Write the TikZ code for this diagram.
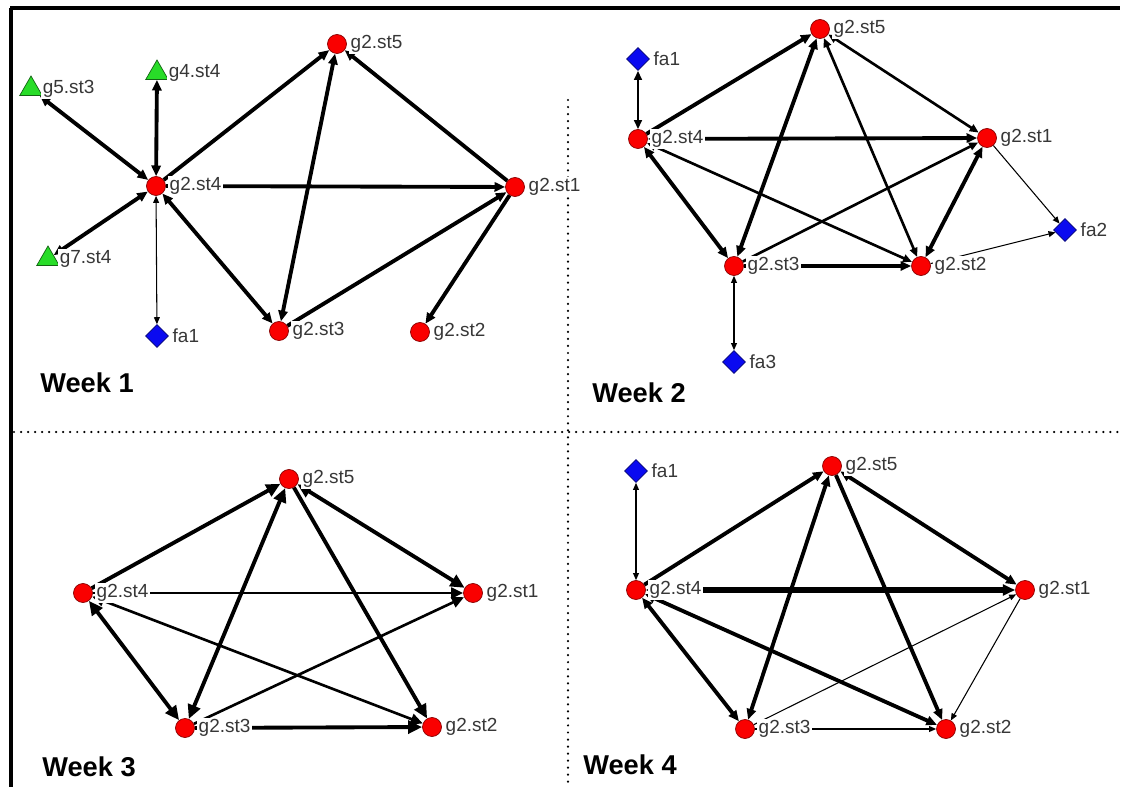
\documentclass[tikz,border=0pt]{standalone}
\usepackage{fontspec}
\setmainfont{Liberation Sans}
\usetikzlibrary{arrows.meta,shapes.geometric,backgrounds}
\definecolor{stred}{RGB}{250,0,0}
\definecolor{grpgreen}{RGB}{40,220,40}
\definecolor{fablue}{RGB}{10,10,240}
\definecolor{lblgray}{RGB}{55,55,55}
\begin{document}
\begin{tikzpicture}[
x=0.02cm, y=-0.02cm,
>={Triangle[length=3.2pt 1.3,width=2.6pt 1.2]},
st/.style={circle, fill=stred, draw=stred!55!black, line width=0.4pt,
  minimum size=0.38cm, inner sep=0pt},
grp/.style={regular polygon, regular polygon sides=3, fill=grpgreen,
  draw=grpgreen!45!black, line width=0.4pt, minimum size=0.52cm, inner sep=0pt},
fa/.style={diamond, fill=fablue, draw=fablue!50!black, line width=0.4pt,
  minimum size=0.46cm, inner sep=0pt},
label distance=1.2pt,
every label/.style={font=\fontsize{10.8}{12}\selectfont, text=lblgray,
  fill=white, inner sep=0.8pt},
week/.style={anchor=west, inner sep=0pt, font=\fontsize{15.5}{17}\selectfont\bfseries},
tn/.style={line width=0.6pt},
md/.style={line width=1.5pt},
tk/.style={line width=2.2pt},
xt/.style={line width=2.9pt},
big/.style={>={Triangle[length=4.5pt 1.6,width=3.8pt 1.6]}},
sep/.style={line width=1.4pt, dash pattern=on 0pt off 4pt, line cap=round}
]
\useasboundingbox (0,0) rectangle (1123,787);

% frame and separators
\draw[line width=1.8pt] (10,8) -- (1120,8);
\draw[line width=1.8pt] (11,8) -- (11,787);
\draw[sep] (14,432) -- (1123,432);
\draw[sep] (568,100) -- (568,787);

% week 1
\node[st, label=right:g2.st5] (w1-st5) at (337,44) {};
\node[grp, label=right:g4.st4] (w1-g4) at (157,73) {};
\node[grp, label=right:g5.st3] (w1-g5) at (31,89) {};
\node[st, label=right:g2.st4] (w1-st4) at (156,186) {};
\node[st, label=right:g2.st1] (w1-st1) at (515,187) {};
\node[grp, label=right:g7.st4] (w1-g7) at (48,259) {};
\node[fa, label=right:fa1] (w1-fa1) at (157,336) {};
\node[st, label=right:g2.st3] (w1-st3) at (279,331) {};
\node[st, label=right:g2.st2] (w1-st2) at (420,332) {};
\node[week] (wk1) at (40,383) {Week 1};

% week 2
\node[st, label=right:g2.st5] (w2-st5) at (820,29) {};
\node[fa, label=right:fa1] (w2-fa1) at (638,59) {};
\node[st, label=right:g2.st4] (w2-st4) at (638,139) {};
\node[st, label=right:g2.st1] (w2-st1) at (987,138) {};
\node[fa, label=right:fa2] (w2-fa2) at (1065,230) {};
\node[st, label=right:g2.st3] (w2-st3) at (734,266) {};
\node[st, label=right:g2.st2] (w2-st2) at (921,266) {};
\node[fa, label=right:fa3] (w2-fa3) at (734,362) {};
\node[week] (wk2) at (592,393) {Week 2};

% week 3
\node[st, label=right:g2.st5] (w3-st5) at (289,479) {};
\node[st, label=right:g2.st4] (w3-st4) at (83,593) {};
\node[st, label=right:g2.st1] (w3-st1) at (473,593) {};
\node[st, label=right:g2.st3] (w3-st3) at (185,728) {};
\node[st, label=right:g2.st2] (w3-st2) at (432,727) {};
\node[week] (wk3) at (42,767) {Week 3};

% week 4
\node[fa, label=right:fa1] (w4-fa1) at (636,471) {};
\node[st, label=right:g2.st5] (w4-st5) at (832,466) {};
\node[st, label=right:g2.st4] (w4-st4) at (636,590) {};
\node[st, label=right:g2.st1] (w4-st1) at (1025,590) {};
\node[st, label=right:g2.st3] (w4-st3) at (745,729) {};
\node[st, label=right:g2.st2] (w4-st2) at (946,729) {};
\node[week] (wk4) at (583,765) {Week 4};

\begin{pgfonlayer}{background}
\draw[tk,<->] (w1-g5) -- (w1-st4);
\draw[tk,<->] (w1-g4) -- (w1-st4);
\draw[tk,<->] (w1-g7) -- (w1-st4);
\draw[tn,<->] (w1-fa1) -- (w1-st4);
\draw[tk,->] (w1-st4) -- (w1-st5);
\draw[tk,->] (w1-st4) -- (w1-st1);
\draw[tk,<->] (w1-st4) -- (w1-st3);
\draw[tk,<->] (w1-st3) -- (w1-st5);
\draw[tk,->] (w1-st1) -- (w1-st5);
\draw[tk,->] (w1-st3) -- (w1-st1);
\draw[tk,->] (w1-st1) -- (w1-st2);

\draw[md,<->] (w2-fa1) -- (w2-st4);
\draw[tk,->] (w2-st4) -- (w2-st5);
\draw[tk,<->] (w2-st4) -- (w2-st1);
\draw[tk,<->] (w2-st4) -- (w2-st3);
\draw[md,<->] (w2-st4) -- (w2-st2);
\draw[md,<->] (w2-st5) -- (w2-st1);
\draw[tk,<->] (w2-st5) -- (w2-st3);
\draw[md,<->] (w2-st5) -- (w2-st2);
\draw[md,->] (w2-st3) -- (w2-st1);
\draw[tk,->] (w2-st3) -- (w2-st2);
\draw[tk,<->] (w2-st1) -- (w2-st2);
\draw[tn,->] (w2-st1) -- (w2-fa2);
\draw[tn,->] (w2-st2) -- (w2-fa2);
\draw[tn,<->] (w2-fa3) -- (w2-st3);

\draw[tk,big,->] (w3-st4) -- (w3-st5);
\draw[md,big,->] (w3-st4) -- (w3-st1);
\draw[tk,big,<->] (w3-st4) -- (w3-st3);
\draw[md,big,<->] (w3-st4) -- (w3-st2);
\draw[tk,big,<->] (w3-st5) -- (w3-st3);
\draw[tk,big,<->] (w3-st5) -- (w3-st1);
\draw[tk,big,->] (w3-st5) -- (w3-st2);
\draw[md,big,->] (w3-st3) -- (w3-st1);
\draw[tk,big,->] (w3-st3) -- (w3-st2);

\draw[tn,<->] (w4-fa1) -- (w4-st4);
\draw[tk,->] (w4-st4) -- (w4-st5);
\draw[xt,<->] (w4-st4) -- (w4-st1);
\draw[tk,<->] (w4-st4) -- (w4-st3);
\draw[tk,<->] (w4-st4) -- (w4-st2);
\draw[tk,<->] (w4-st5) -- (w4-st3);
\draw[tk,<->] (w4-st5) -- (w4-st1);
\draw[tk,->] (w4-st5) -- (w4-st2);
\draw[tn,->] (w4-st3) -- (w4-st1);
\draw[tn,->] (w4-st3) -- (w4-st2);
\draw[tn,->] (w4-st1) -- (w4-st2);
\end{pgfonlayer}
\end{tikzpicture}
\end{document}
